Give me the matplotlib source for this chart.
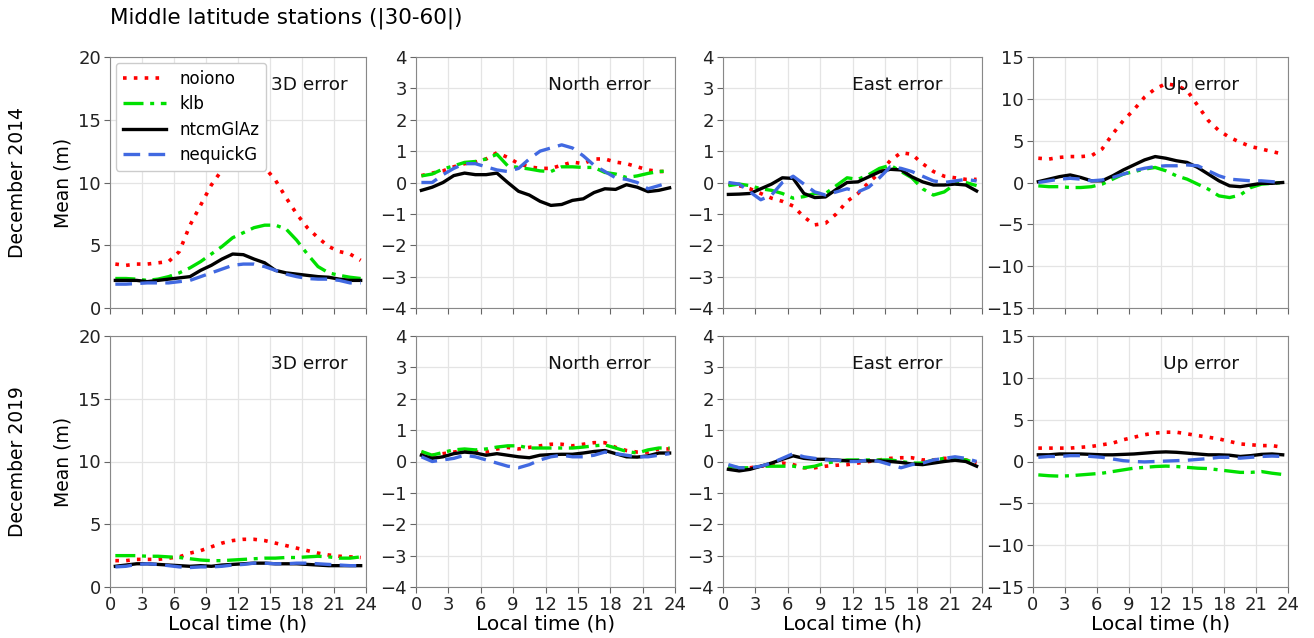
import numpy as np
import matplotlib
matplotlib.use("Agg")
import matplotlib.pyplot as plt

hours = np.arange(24) + 0.5
models = ["noiono", "klb", "ntcmGlAz", "nequickG"]
panel_titles = ["3D error", "North error", "East error", "Up error"]
row_labels = ["December 2014", "December 2019"]
xticks = [0, 3, 6, 9, 12, 15, 18, 21, 24]

# ---- December 2014 ----
d14_3d_noiono = [3.5, 3.4, 3.5, 3.5, 3.6, 3.7, 4.5, 6.6, 8.2, 9.8, 11.0, 11.8, 12.0, 11.8, 11.2, 10.2, 8.8, 7.5, 6.4, 5.6, 4.9, 4.5, 4.3, 3.8]
d14_3d_klb = [2.35, 2.35, 2.3, 2.2, 2.3, 2.5, 2.8, 3.2, 3.7, 4.3, 4.9, 5.6, 6.0, 6.4, 6.6, 6.6, 6.3, 5.4, 4.3, 3.3, 2.8, 2.6, 2.45, 2.35]
d14_3d_ntcm = [2.2, 2.2, 2.2, 2.1, 2.2, 2.3, 2.4, 2.5, 3.0, 3.4, 3.9, 4.3, 4.25, 3.9, 3.6, 3.0, 2.8, 2.7, 2.6, 2.5, 2.45, 2.3, 2.2, 2.2]
d14_3d_neq = [1.9, 1.9, 1.95, 2.0, 2.0, 2.0, 2.1, 2.2, 2.5, 2.8, 3.1, 3.4, 3.5, 3.5, 3.3, 3.0, 2.7, 2.5, 2.35, 2.3, 2.3, 2.2, 2.0, 2.0]

d14_n_noiono = [0.22, 0.3, 0.37, 0.5, 0.6, 0.65, 0.75, 0.95, 0.8, 0.6, 0.5, 0.45, 0.45, 0.55, 0.65, 0.6, 0.75, 0.75, 0.65, 0.6, 0.5, 0.4, 0.35, 0.35]
d14_n_klb = [0.21, 0.27, 0.43, 0.53, 0.64, 0.67, 0.75, 0.9, 0.53, 0.48, 0.43, 0.37, 0.35, 0.5, 0.5, 0.48, 0.48, 0.32, 0.27, 0.16, 0.21, 0.29, 0.35, 0.37]
d14_n_ntcm = [-0.25, -0.15, 0.0, 0.22, 0.3, 0.25, 0.25, 0.3, 0.0, -0.28, -0.4, -0.6, -0.73, -0.7, -0.57, -0.52, -0.32, -0.2, -0.22, -0.07, -0.15, -0.29, -0.25, -0.17]
d14_n_neq = [0.0, 0.0, 0.25, 0.45, 0.6, 0.6, 0.5, 0.4, 0.35, 0.45, 0.75, 1.0, 1.1, 1.2, 1.1, 0.85, 0.55, 0.35, 0.15, 0.1, 0.0, -0.2, -0.1, 0.0]

d14_e_noiono = [-0.05, -0.1, -0.2, -0.35, -0.5, -0.6, -0.75, -1.1, -1.35, -1.3, -1.0, -0.6, -0.35, 0.0, 0.3, 0.7, 0.95, 0.9, 0.6, 0.35, 0.2, 0.15, 0.1, 0.1]
d14_e_klb = [-0.1, -0.05, -0.1, -0.2, -0.25, -0.35, -0.5, -0.45, -0.35, -0.35, -0.1, 0.15, 0.1, 0.25, 0.45, 0.55, 0.35, 0.15, -0.2, -0.4, -0.3, -0.05, 0.0, -0.1]
d14_e_ntcm = [-0.38, -0.37, -0.35, -0.2, -0.05, 0.15, 0.13, -0.35, -0.48, -0.46, -0.22, 0.0, 0.02, 0.18, 0.34, 0.42, 0.4, 0.18, 0.02, -0.08, -0.08, -0.05, -0.08, -0.27]
d14_e_neq = [0.0, -0.05, -0.3, -0.55, -0.4, 0.0, 0.2, -0.05, -0.3, -0.4, -0.3, -0.2, -0.3, -0.15, 0.15, 0.5, 0.45, 0.35, 0.2, 0.05, 0.0, 0.05, 0.1, 0.05]

d14_u_noiono = [2.9, 2.8, 3.0, 3.1, 3.1, 3.2, 4.0, 5.8, 7.4, 8.7, 10.2, 11.2, 11.8, 11.6, 11.0, 9.2, 7.4, 6.2, 5.4, 4.8, 4.3, 4.0, 3.7, 3.4]
d14_u_klb = [-0.4, -0.5, -0.5, -0.6, -0.6, -0.5, -0.2, 0.4, 1.0, 1.3, 1.6, 1.8, 1.4, 0.8, 0.4, -0.2, -0.8, -1.6, -1.8, -1.5, -0.6, -0.2, -0.1, 0.0]
d14_u_ntcm = [0.1, 0.4, 0.7, 0.9, 0.6, 0.2, 0.2, 0.8, 1.5, 2.1, 2.7, 3.1, 2.9, 2.6, 2.4, 1.8, 1.0, 0.2, -0.4, -0.5, -0.3, -0.1, -0.1, 0.0]
d14_u_neq = [0.0, 0.2, 0.4, 0.5, 0.4, 0.2, 0.3, 0.6, 1.0, 1.4, 1.7, 1.9, 2.0, 2.0, 2.1, 2.0, 1.4, 0.8, 0.4, 0.3, 0.2, 0.2, 0.1, 0.0]

# ---- December 2019 ----
d19_3d_noiono = [2.1, 2.1, 2.2, 2.2, 2.2, 2.3, 2.4, 2.7, 2.9, 3.2, 3.5, 3.7, 3.8, 3.8, 3.7, 3.5, 3.3, 3.1, 2.9, 2.7, 2.55, 2.45, 2.4, 2.35]
d19_3d_klb = [2.5, 2.5, 2.5, 2.45, 2.45, 2.4, 2.35, 2.25, 2.15, 2.1, 2.1, 2.15, 2.2, 2.25, 2.3, 2.3, 2.35, 2.35, 2.4, 2.45, 2.4, 2.3, 2.3, 2.4]
d19_3d_ntcm = [1.65, 1.75, 1.85, 1.85, 1.8, 1.75, 1.7, 1.65, 1.7, 1.65, 1.75, 1.8, 1.85, 1.9, 1.9, 1.85, 1.85, 1.85, 1.8, 1.75, 1.7, 1.7, 1.7, 1.7]
d19_3d_neq = [1.6, 1.65, 1.8, 1.85, 1.8, 1.7, 1.6, 1.55, 1.6, 1.6, 1.65, 1.75, 1.8, 1.9, 1.9, 1.85, 1.85, 1.9, 1.9, 1.85, 1.8, 1.75, 1.7, 1.7]

d19_n_noiono = [0.3, 0.2, 0.25, 0.3, 0.35, 0.3, 0.3, 0.4, 0.45, 0.4, 0.45, 0.5, 0.55, 0.55, 0.5, 0.55, 0.6, 0.6, 0.45, 0.35, 0.3, 0.3, 0.4, 0.4]
d19_n_klb = [0.32, 0.2, 0.29, 0.37, 0.4, 0.37, 0.4, 0.46, 0.5, 0.5, 0.43, 0.43, 0.43, 0.43, 0.43, 0.46, 0.5, 0.53, 0.43, 0.32, 0.27, 0.37, 0.43, 0.43]
d19_n_ntcm = [0.2, 0.1, 0.15, 0.25, 0.3, 0.27, 0.2, 0.25, 0.2, 0.15, 0.12, 0.2, 0.22, 0.23, 0.23, 0.27, 0.32, 0.35, 0.25, 0.15, 0.14, 0.18, 0.27, 0.27]
d19_n_neq = [0.15, 0.0, 0.05, 0.1, 0.2, 0.15, 0.05, -0.05, -0.15, -0.2, -0.1, 0.05, 0.15, 0.2, 0.15, 0.15, 0.2, 0.3, 0.25, 0.2, 0.15, 0.15, 0.2, 0.25]

d19_e_noiono = [-0.2, -0.25, -0.2, -0.15, -0.1, -0.05, -0.1, -0.2, -0.2, -0.15, -0.12, -0.1, -0.05, 0.0, 0.05, 0.1, 0.12, 0.12, 0.05, 0.05, 0.1, 0.1, 0.05, -0.05]
d19_e_klb = [-0.15, -0.2, -0.2, -0.15, -0.15, -0.15, -0.15, -0.2, -0.15, -0.05, 0.0, 0.05, 0.05, 0.05, 0.05, 0.05, 0.0, -0.05, -0.05, 0.05, 0.1, 0.1, 0.05, -0.05]
d19_e_ntcm = [-0.25, -0.3, -0.25, -0.15, -0.05, 0.07, 0.18, 0.1, 0.07, 0.07, 0.05, 0.02, 0.02, 0.02, 0.02, 0.0, -0.03, -0.08, -0.1, -0.05, 0.0, 0.04, 0.0, -0.15]
d19_e_neq = [-0.1, -0.2, -0.2, -0.15, -0.05, 0.1, 0.25, 0.15, 0.1, 0.05, 0.05, 0.0, 0.0, 0.05, 0.0, -0.1, -0.2, -0.1, -0.05, 0.05, 0.1, 0.15, 0.1, 0.0]

d19_u_noiono = [1.6, 1.6, 1.6, 1.6, 1.7, 1.8, 2.0, 2.2, 2.6, 2.9, 3.2, 3.4, 3.5, 3.5, 3.3, 3.1, 2.9, 2.7, 2.4, 2.1, 2.0, 1.9, 1.9, 1.7]
d19_u_klb = [-1.6, -1.7, -1.75, -1.7, -1.6, -1.5, -1.4, -1.2, -1.0, -0.8, -0.7, -0.6, -0.55, -0.6, -0.7, -0.8, -0.85, -1.0, -1.15, -1.3, -1.3, -1.2, -1.4, -1.55]
d19_u_ntcm = [0.8, 0.8, 0.9, 0.9, 0.9, 0.85, 0.8, 0.8, 0.85, 0.9, 1.0, 1.1, 1.15, 1.1, 1.0, 0.9, 0.8, 0.8, 0.75, 0.6, 0.7, 0.85, 0.9, 0.8]
d19_u_neq = [0.5, 0.6, 0.6, 0.7, 0.7, 0.6, 0.5, 0.3, 0.1, 0.0, -0.05, 0.0, 0.05, 0.1, 0.15, 0.25, 0.35, 0.5, 0.5, 0.4, 0.5, 0.6, 0.65, 0.6]

data = [
    [[d14_3d_noiono, d14_3d_klb, d14_3d_ntcm, d14_3d_neq],
     [d14_n_noiono, d14_n_klb, d14_n_ntcm, d14_n_neq],
     [d14_e_noiono, d14_e_klb, d14_e_ntcm, d14_e_neq],
     [d14_u_noiono, d14_u_klb, d14_u_ntcm, d14_u_neq]],
    [[d19_3d_noiono, d19_3d_klb, d19_3d_ntcm, d19_3d_neq],
     [d19_n_noiono, d19_n_klb, d19_n_ntcm, d19_n_neq],
     [d19_e_noiono, d19_e_klb, d19_e_ntcm, d19_e_neq],
     [d19_u_noiono, d19_u_klb, d19_u_ntcm, d19_u_neq]],
]

styles = [
    dict(color="red", linestyle=(0, (1, 2)), linewidth=2.6),
    dict(color="#00e000", linestyle=(0, (6, 2, 1.2, 2)), linewidth=2.4),
    dict(color="black", linestyle="-", linewidth=2.4),
    dict(color="#4169e1", linestyle=(0, (5, 2.5)), linewidth=2.4),
]

ylims = [(0, 20), (-4, 4), (-4, 4), (-15, 15)]
yticks = [[0, 5, 10, 15, 20], list(range(-4, 5)), list(range(-4, 5)), [-15, -10, -5, 0, 5, 10, 15]]
label_x = [0.63, 0.51, 0.50, 0.51]

W, H = 1314, 638
fig = plt.figure(figsize=(W / 100, H / 100), dpi=100)
col_left = [110, 416, 723, 1033]
col_w = [256, 259, 259, 255]
row_top = [57, 336]
ax_h = 251

for r in range(2):
    for c in range(4):
        ax = fig.add_axes([col_left[c] / W, 1 - (row_top[r] + ax_h) / H, col_w[c] / W, ax_h / H])
        for k in range(4):
            ax.plot(hours, data[r][c][k], label=models[k], **styles[k])
        ax.set_xlim(0, 24)
        ax.set_ylim(*ylims[c])
        ax.set_xticks(xticks)
        ax.set_yticks(yticks[c])
        ax.grid(True, color="#e4e4e4", linewidth=0.9)
        ax.set_axisbelow(True)
        for s in ax.spines.values():
            s.set_color("#888888")
        ax.tick_params(labelsize=13, colors="#222222", length=4, color="#666666", pad=2.5)
        if r == 0:
            ax.set_xticklabels([])
        else:
            ax.set_xlabel("Local time (h)", fontsize=14.5, labelpad=0)
        if c == 0:
            ax.set_ylabel("Mean (m)", fontsize=13.5)
        ax.text(label_x[c], 0.89, panel_titles[c], transform=ax.transAxes,
                fontsize=13.3, ha="left", va="center", color="#111111")
        if r == 0 and c == 0:
            leg = ax.legend(loc="upper left", fontsize=12, handlelength=2.6,
                            borderaxespad=0.35, labelspacing=0.45, framealpha=1)
            leg.get_frame().set_edgecolor("#cccccc")

fig.text(110 / W, 1 - 18 / H, "Middle latitude stations (|30-60|)", fontsize=15.5, va="center", ha="left")
fig.text(18 / W, 1 - 182 / H, row_labels[0], fontsize=13.5, rotation=90, va="center", ha="center")
fig.text(18 / W, 1 - 462 / H, row_labels[1], fontsize=13.5, rotation=90, va="center", ha="center")

fig.savefig("out.png", dpi=100)
